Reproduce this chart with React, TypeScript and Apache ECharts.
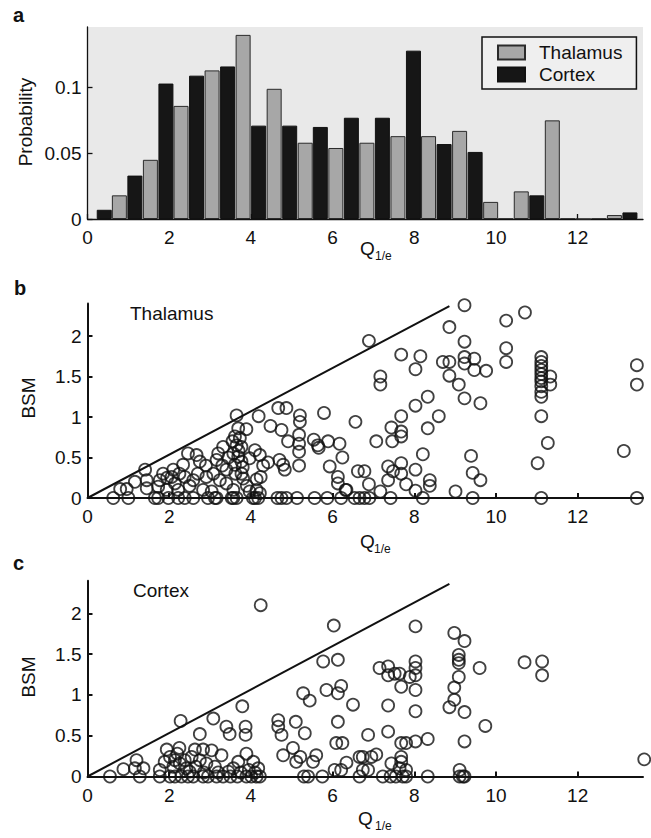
import React, { useEffect, useRef } from "react";
import * as echarts from "echarts";

const FONT = "'Liberation Sans', Arial, Helvetica, sans-serif";
const INK = "#111111";

// Panel a: histogram (bin centres in Q1/e units, probabilities)
const cortexBins = [0.41, 1.16, 1.92, 2.67, 3.43, 4.19, 4.95, 5.7, 6.46, 7.22, 7.98, 8.73, 9.49, 10.24, 11.0, 11.76, 12.52, 13.28];
const cortexProb = [0.007, 0.033, 0.103, 0.109, 0.116, 0.071, 0.071, 0.07, 0.077, 0.077, 0.128, 0.057, 0.051, 0, 0.018, 0, 0, 0.005];
const thalamusBins = [0.78, 1.54, 2.29, 3.05, 3.81, 4.57, 5.33, 6.08, 6.84, 7.6, 8.35, 9.11, 9.87, 10.62, 11.38, 12.14, 12.9];
const thalamusProb = [0.018, 0.045, 0.086, 0.113, 0.14, 0.099, 0.058, 0.054, 0.058, 0.063, 0.063, 0.067, 0.013, 0.021, 0.075, 0, 0.003];

const xTicks = [0, 2, 4, 6, 8, 10, 12];

// Panel b: Thalamus, [Q1/e, BSM]
const thalamusPoints = [
  [3.65, 1.02], [4.19, 1.01], [4.67, 1.11], [4.87, 1.11], [5.2, 1.02], [5.2, 0.94], [5.79, 1.05], [6.56, 0.94],
  [4.48, 0.89], [4.75, 0.84], [3.89, 0.85], [4.91, 0.7], [5.18, 0.78], [5.18, 0.67], [5.18, 0.57], [5.18, 0.4],
  [5.54, 0.72], [5.64, 0.65], [5.66, 0.62], [5.89, 0.7], [6.17, 0.67], [6.24, 0.5], [5.93, 0.39], [6.13, 0.26],
  [6.13, 0.18], [6.32, 0.1], [6.62, 0.33], [4.7, 0.47], [4.79, 0.41], [4.83, 0.35], [4.42, 0.44], [4.22, 0.53],
  [4.1, 0.59], [3.97, 0.49], [4.24, 0.26], [4.14, 0.23], [4.14, 0.1], [4.22, 0.06],
  [3.69, 0.86], [3.61, 0.76], [3.73, 0.74], [3.65, 0.65], [3.77, 0.63], [3.57, 0.55], [3.69, 0.51], [3.77, 0.45],
  [3.61, 0.41], [3.77, 0.3], [3.81, 0.24], [3.4, 0.35], [3.32, 0.63], [3.2, 0.55], [3.16, 0.47], [3.08, 0.3],
  [3.24, 0.22], [3.4, 0.18], [2.91, 0.26], [2.75, 0.45], [2.67, 0.53], [2.46, 0.55], [2.59, 0.22], [2.38, 0.26],
  [2.34, 0.41], [2.1, 0.35], [2.06, 0.26], [2.14, 0.18], [1.85, 0.3], [1.77, 0.22], [1.73, 0.14], [1.41, 0.35],
  [1.45, 0.22], [1.16, 0.2], [0.96, 0.11], [0.8, 0.11], [1.45, 0.12], [1.94, 0.1], [2.22, 0.1], [2.83, 0.1],
  [3.04, 0.08], [3.57, 0.1], [3.97, 0.08], [2.25, 0.3], [2.5, 0.15], [2.7, 0.3], [2.9, 0.4], [3.3, 0.4],
  [3.45, 0.5], [3.55, 0.7], [3.7, 0.58], [3.8, 0.38], [3.62, 0.3], [3.9, 0.15], [4.3, 0.4], [1.95, 0.25],
  [9.23, 2.38], [10.25, 2.19], [10.71, 2.29], [8.86, 2.11], [6.89, 1.94], [9.23, 1.93], [10.25, 1.85], [10.25, 1.68],
  [7.68, 1.77], [8.15, 1.75], [8.03, 1.59], [8.7, 1.68], [8.86, 1.68], [9.23, 1.74], [9.23, 1.66], [9.47, 1.72],
  [9.47, 1.58], [9.76, 1.57], [8.86, 1.51], [9.09, 1.4], [9.23, 1.23], [9.62, 1.17], [7.17, 1.5], [7.17, 1.4],
  [8.33, 1.25], [8.03, 1.14], [7.68, 1.01], [8.6, 1.01], [8.33, 0.86], [7.44, 0.87], [7.68, 0.82], [7.68, 0.76],
  [7.46, 0.7], [7.07, 0.7], [8.21, 0.54], [9.39, 0.52], [9.43, 0.31], [9.62, 0.22], [6.78, 0.33], [7.36, 0.39],
  [7.68, 0.43], [7.48, 0.33], [8.03, 0.35], [7.68, 0.3], [7.36, 0.22], [6.89, 0.17], [7.8, 0.17], [8.38, 0.22],
  [8.38, 0.15], [7.17, 0.08], [8.03, 0.09], [9.01, 0.08], [6.34, 0.1],
  [11.11, 1.74], [11.11, 1.68], [11.11, 1.63], [11.11, 1.58], [11.11, 1.53], [11.11, 1.48], [11.11, 1.44],
  [11.11, 1.38], [11.11, 1.31], [11.11, 1.25], [11.33, 1.5], [11.33, 1.4], [11.11, 1.01], [11.27, 0.68],
  [11.02, 0.43], [13.45, 1.64], [13.45, 1.4], [13.13, 0.58],
];
const thalamusZeroQ = [0.63, 1.0, 1.65, 1.73, 1.98, 2.22, 2.38, 2.59, 2.95, 3.12, 3.16, 3.53, 3.57, 3.65, 4.05, 4.1, 4.18, 4.65, 4.75, 4.87, 5.13, 5.56, 5.87, 6.21, 6.54, 6.66, 6.78, 6.9, 7.42, 8.21, 9.43, 11.11, 13.45];

// Panel c: Cortex, [Q1/e, BSM]
const cortexPoints = [
  [4.24, 2.1], [6.03, 1.85], [5.77, 1.41], [6.13, 1.43], [5.85, 1.06], [6.21, 1.11], [6.13, 1.02], [6.5, 0.88],
  [5.28, 1.02], [5.44, 0.93], [6.13, 0.67], [6.09, 0.41], [6.24, 0.41], [4.67, 0.69], [4.67, 0.61], [4.75, 0.51],
  [5.1, 0.67], [5.32, 0.53], [3.79, 0.86], [3.87, 0.61], [3.87, 0.51], [3.4, 0.61], [3.48, 0.52], [3.08, 0.71],
  [2.75, 0.52], [2.28, 0.68], [3.89, 0.28], [4.79, 0.26], [5.03, 0.35], [5.21, 0.24], [5.11, 0.18], [5.52, 0.18],
  [5.6, 0.26], [6.34, 0.17], [6.05, 0.08], [6.21, 0.08], [6.66, 0.24], [4.06, 0.18], [4.18, 0.1], [3.69, 0.18],
  [3.57, 0.1], [3.28, 0.26], [3.04, 0.32], [2.83, 0.33], [2.63, 0.33], [2.55, 0.24], [2.75, 0.2], [2.25, 0.35],
  [1.94, 0.33], [2.02, 0.24], [2.14, 0.2], [2.26, 0.16], [1.89, 0.18], [1.77, 0.08], [2.42, 0.1], [2.91, 0.16],
  [3.12, 0.12], [1.2, 0.2], [1.37, 0.1], [1.16, 0.1], [0.88, 0.09], [2.1, 0.12], [2.2, 0.28], [2.38, 0.2],
  [2.5, 0.06], [2.65, 0.12], [2.85, 0.05], [3.2, 0.05], [3.45, 0.06], [3.75, 0.05], [3.95, 0.08], [4.1, 0.05],
  [8.03, 1.84], [8.98, 1.76], [9.23, 1.66], [9.09, 1.49], [9.09, 1.43], [9.09, 1.39], [9.09, 1.22], [8.98, 1.09],
  [8.98, 0.94], [8.86, 0.85], [9.23, 0.79], [9.6, 1.33], [10.7, 1.4], [11.13, 1.41], [11.13, 1.24], [8.03, 1.41],
  [8.03, 1.33], [8.03, 1.24], [8.03, 1.06], [8.03, 0.8], [7.15, 1.33], [7.36, 1.35], [7.36, 1.24], [7.52, 1.26],
  [7.64, 1.26], [7.68, 1.1], [7.89, 1.22], [7.36, 0.87], [7.36, 0.55], [6.87, 0.51], [7.68, 0.41], [7.8, 0.41],
  [8.03, 0.43], [8.33, 0.46], [9.23, 0.43], [9.74, 0.62], [6.74, 0.24], [6.95, 0.24], [7.07, 0.27], [7.44, 0.16],
  [7.68, 0.24], [7.68, 0.18], [6.74, 0.08], [6.87, 0.08], [7.64, 0.1], [7.8, 0.08], [9.11, 0.08], [13.63, 0.21],
];
const cortexZeroQ = [0.55, 1.28, 1.77, 2.02, 2.14, 2.3, 2.46, 2.59, 2.83, 2.95, 3.16, 3.32, 3.5, 3.67, 3.89, 4.01, 4.14, 4.22, 5.3, 5.4, 5.75, 6.66, 7.23, 7.42, 7.55, 7.72, 7.8, 8.33, 9.11, 9.19, 9.23];

// Diagonal reference lines
const diagThalamus = [[0, 0], [8.86, 2.37]];
const diagCortex = [[0, 0], [8.86, 2.36]];

const X_MAX = 13.6;

export default function App() {
  const ref = useRef<HTMLDivElement>(null);

  useEffect(() => {
    if (!ref.current) return;
    const chart = echarts.init(ref.current, null, { renderer: "svg" });

    const xAxisBase = (gridIndex: number, lw: number) => ({
      type: "value",
      gridIndex,
      min: 0,
      max: X_MAX,
      interval: 2,
      axisLine: { show: true, onZero: false, lineStyle: { color: INK, width: lw } },
      axisTick: { show: true, inside: true, length: 5, lineStyle: { color: INK, width: lw } },
      axisLabel: {
        show: true,
        showMaxLabel: false,
        margin: 9,
        fontFamily: FONT,
        fontSize: 19,
        color: INK,
        formatter: (v: number) => (xTicks.indexOf(Math.round(v)) >= 0 && Math.abs(v - Math.round(v)) < 1e-6 ? String(Math.round(v)) : ""),
      },
      splitLine: { show: false },
    });

    const yAxisBase = (gridIndex: number, max: number, interval: number, lw: number) => ({
      type: "value",
      gridIndex,
      min: 0,
      max,
      interval,
      axisLine: { show: true, onZero: false, lineStyle: { color: INK, width: lw } },
      axisTick: { show: true, inside: true, length: 5, lineStyle: { color: INK, width: lw } },
      axisLabel: {
        show: true,
        showMaxLabel: false,
        margin: 6,
        fontFamily: FONT,
        fontSize: 19,
        color: INK,
        formatter: (v: number) => {
          const r = Math.round(v / interval) * interval;
          if (Math.abs(r - v) > 1e-6) return "";
          return String(+r.toFixed(3));
        },
      },
      splitLine: { show: false },
    });

    const circleStyle = { color: "rgba(0,0,0,0)", borderColor: INK, borderWidth: 1.8 };

    const txt = (text: string, x: number, y: number, extra: any = {}) => ({
      type: "text",
      x,
      y,
      silent: true,
      ...(extra.rotation !== undefined ? { rotation: extra.rotation } : {}),
      style: {
        text,
        fill: INK,
        fontFamily: FONT,
        fontSize: extra.fontSize || 19,
        fontWeight: extra.fontWeight || "normal",
        textAlign: extra.align || "left",
        textVerticalAlign: "middle",
        verticalAlign: "middle",
      },
    });

    const option: any = {
      animation: false,
      backgroundColor: "#ffffff",
      grid: [
        { left: 87.5, top: 27, width: 555.5, height: 192, show: true, backgroundColor: "#e9e9e9", borderWidth: 0 },
        { left: 87.5, top: 303.6, width: 555.5, height: 194.4 },
        { left: 87.5, top: 580.7, width: 555.5, height: 195.8 },
      ],
      xAxis: [xAxisBase(0, 1.3), xAxisBase(1, 2), xAxisBase(2, 2)],
      yAxis: [yAxisBase(0, 0.146, 0.05, 1.3), yAxisBase(1, 2.4, 0.5, 2), yAxisBase(2, 2.4, 0.5, 2)],
      legend: {
        data: ["Thalamus", "Cortex"],
        left: 482,
        top: 37,
        orient: "vertical",
        itemWidth: 27,
        itemHeight: 14,
        itemGap: 3,
        padding: [6, 14, 5, 15],
        borderColor: INK,
        borderWidth: 1.5,
        borderRadius: 0,
        backgroundColor: "#efefef",
        selectedMode: false,
        icon: "rect",
        textStyle: { fontFamily: FONT, fontSize: 19, color: INK, padding: [0, 0, 0, 9], lineHeight: 19 },
      },
      series: [
        {
          name: "Thalamus",
          type: "bar",
          xAxisIndex: 0,
          yAxisIndex: 0,
          barWidth: 15,
          barGap: "-100%",
          itemStyle: { color: "#a7a7a7", borderColor: "#2a2a2a", borderWidth: 1 },
          data: thalamusBins.map((x, i) => [x, thalamusProb[i]]),
        },
        {
          name: "Cortex",
          type: "bar",
          xAxisIndex: 0,
          yAxisIndex: 0,
          barWidth: 15,
          barGap: "-100%",
          itemStyle: { color: "#161616", borderColor: "#111", borderWidth: 1 },
          data: cortexBins.map((x, i) => [x, cortexProb[i]]),
        },
        {
          name: "diag-b",
          type: "line",
          xAxisIndex: 1,
          yAxisIndex: 1,
          symbol: "none",
          lineStyle: { color: INK, width: 2 },
          data: diagThalamus,
        },
        {
          name: "thalamus-bsm",
          type: "scatter",
          xAxisIndex: 1,
          yAxisIndex: 1,
          clip: false,
          symbol: "circle",
          symbolSize: 12,
          itemStyle: circleStyle,
          data: thalamusPoints.concat(thalamusZeroQ.map((q) => [q, 0])),
        },
        {
          name: "diag-c",
          type: "line",
          xAxisIndex: 2,
          yAxisIndex: 2,
          symbol: "none",
          lineStyle: { color: INK, width: 2 },
          data: diagCortex,
        },
        {
          name: "cortex-bsm",
          type: "scatter",
          xAxisIndex: 2,
          yAxisIndex: 2,
          clip: false,
          symbol: "circle",
          symbolSize: 12,
          itemStyle: circleStyle,
          data: cortexPoints.concat(cortexZeroQ.map((q) => [q, 0])),
        },
      ],
      graphic: [
        txt("a", 13, 15, { fontWeight: "bold", fontSize: 20 }),
        txt("b", 14, 288, { fontWeight: "bold", fontSize: 20 }),
        txt("c", 13, 563, { fontWeight: "bold", fontSize: 20 }),
        txt("Probability", 25, 122, { rotation: Math.PI / 2, align: "center" }),
        txt("BSM", 28, 398, { rotation: Math.PI / 2, align: "center" }),
        txt("BSM", 28, 677, { rotation: Math.PI / 2, align: "center" }),
        txt("Thalamus", 130, 313),
        txt("Cortex", 133, 590),
        txt("Q", 360, 248),
        txt("1/e", 375, 256, { fontSize: 12 }),
        txt("Q", 360, 541),
        txt("1/e", 374, 549, { fontSize: 12 }),
        txt("Q", 358, 818),
        txt("1/e", 375, 826, { fontSize: 12 }),
      ],
    };

    chart.setOption(option);
    return () => chart.dispose();
  }, []);

  return (
    <div
      ref={ref}
      style={{ position: "absolute", left: 0, top: 0, width: 651, height: 838, background: "#ffffff" }}
    />
  );
}
